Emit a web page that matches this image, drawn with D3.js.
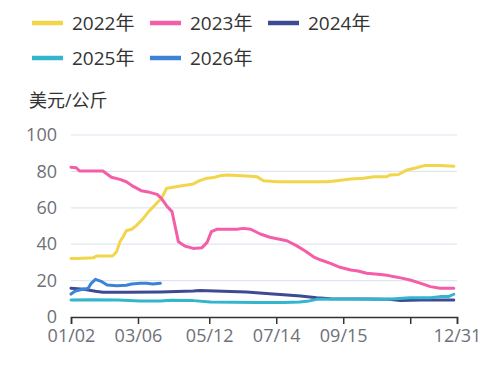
<!DOCTYPE html>
<html>
<head>
<meta charset="utf-8">
<script src="https://cdn.jsdelivr.net/npm/d3@7"></script>
<style>
	body { margin: 0; background: #fff; }
	svg { display: block; font-family: "Open Sans", "Noto Sans CJK SC", sans-serif; }
</style>
</head>
<body>
<svg id="chart" width="491" height="375"></svg>
<script>
// Data, dates are MM/DD
var seriesNames = ["2022年", "2023年", "2024年", "2025年", "2026年"];
var seriesColors = ["#f3d54b", "#f45ea8", "#3e4b93", "#33b6cd", "#3c83d5"];

var dates2022 = ["01/02","01/08","01/23","01/26","02/10","02/12","02/14","02/17","02/20","02/23","02/28","03/05","03/11","03/16","03/22","03/28","04/02","04/08","04/15","04/21","04/27","05/03","05/10","05/16","05/22","05/29","06/16","06/26","07/02","07/15","08/31","09/09","09/22","10/04","10/14","10/26","10/29","11/06","11/14","11/23","12/01","12/15","12/28"];
var values2022 = [32.2,32.2,32.5,33.5,33.5,34.6,36,41.4,44.1,47.4,48.2,50.5,54.2,57.9,61.5,65.2,70.7,71.3,72,72.5,73.1,74.9,76.3,76.6,77.6,78,77.5,77,74.9,74.3,74.3,74.9,75.8,76.2,77.1,77.1,78,78.3,80.8,82,83.3,83.3,82.8];

var dates2023 = ["01/02","01/07","01/10","02/01","02/09","02/17","02/23","03/02","03/09","03/17","03/24","03/28","04/02","04/07","04/10","04/13","04/19","04/27","05/05","05/10","05/14","05/19","06/07","06/13","06/20","06/29","07/08","07/24","08/02","08/11","08/18","08/25","09/03","09/12","09/22","09/29","10/07","10/20","10/26","11/01","11/08","11/17","11/27","12/06","12/15","12/28"];
var values2023 = [82.3,82,80.2,80.2,76.8,75.6,74.3,71.6,69.4,68.5,67.4,65.2,61,57.9,49.6,41.4,39,37.7,38,41,46.9,48.2,48.2,48.7,48.2,45.6,43.8,41.9,39.2,36,33.1,31.3,29.5,27.3,25.8,25.3,24,23.4,23,22.2,21.5,20.3,18.5,16.7,15.8,15.8];

var dates2024 = ["01/02","01/14","01/25","02/01","02/23","03/27","04/27","05/03","05/25","06/16","07/11","07/21","08/06","08/21","09/03","10/08","10/28","11/08","11/27","12/28"];
var values2024 = [15.8,15.2,14.1,13.6,13.6,13.8,14.3,14.5,14.2,13.7,12.6,12.2,11.6,10.6,10,9.9,9.8,9.0,9.3,9.3];

var dates2025 = ["01/02","01/21","02/15","03/08","03/27","04/06","04/27","05/13","06/25","07/21","08/05","08/12","08/21","09/22","10/26","11/17","12/06","12/15","12/23","12/28"];
var values2025 = [9.4,9.5,9.3,8.8,8.8,9.2,9.0,8.2,8.0,7.9,8.3,8.6,9.7,9.9,9.7,10.6,10.6,11.2,11.2,12.5];

var dates2026 = ["01/02","01/06","01/14","01/18","01/21","01/25","01/31","02/05","02/14","02/23","02/28","03/08","03/14","03/20","03/27"];
var values2026 = [12.6,14.3,15.4,15.6,18.5,20.7,19.4,17.6,17.2,17.4,18.1,18.5,18.5,18.1,18.5];

var xTickDates = ["01/02","03/06","05/12","07/14","09/15","11/17","12/31"];
var xTickLabels = ["01/02","03/06","05/12","07/14","09/15","","12/31"];
var yTicks = [0, 20, 40, 60, 80, 100];

var parseDate = d3.timeParse("%m/%d");

var allDates = [dates2022, dates2023, dates2024, dates2025, dates2026];
var allValues = [values2022, values2023, values2024, values2025, values2026];

var series = seriesNames.map(function(name, i) {
	return {
		name: name,
		color: seriesColors[i],
		points: allDates[i].map(function(d, j) {
			return { date: parseDate(d), value: allValues[i][j] };
		})
	};
});

var margin = {top: 135, right: 34, bottom: 58, left: 71},
	width = 491 - margin.left - margin.right,
	height = 375 - margin.top - margin.bottom;

var x = d3.scaleTime()
	.domain([parseDate("01/02"), parseDate("12/31")])
	.range([0, width]);

var y = d3.scaleLinear()
	.domain([0, 100])
	.range([height, 0]);

var svg = d3.select("svg#chart");

// legend
var legend = svg.append("g").attr("class", "legend");
var legendItem = legend.selectAll("g")
	.data(series)
	.enter().append("g")
	.attr("transform", function(d, i) {
		return "translate(" + (32 + (i % 3) * 118) + "," + (23 + Math.floor(i / 3) * 35) + ")";
	});
legendItem.append("line")
	.attr("x1", 0)
	.attr("x2", 31)
	.attr("stroke", function(d) { return d.color; })
	.attr("stroke-width", 4.5);
legendItem.append("text")
	.attr("x", 40)
	.attr("y", 7)
	.attr("fill", "#333")
	.style("font-size", "19px")
	.text(function(d) { return d.name; });

// y axis name
svg.append("text")
	.attr("x", 29)
	.attr("y", 107)
	.attr("fill", "#333")
	.style("font-size", "18px")
	.text("美元/公斤");

var g = svg.append("g")
	.attr("transform", "translate(" + margin.left + "," + margin.top + ")");

// grid lines
g.append("g")
	.attr("class", "grid")
	.selectAll("line")
	.data(yTicks.filter(function(t) { return t > 0; }))
	.enter().append("line")
	.attr("x1", 0)
	.attr("x2", width)
	.attr("y1", function(d) { return y(d); })
	.attr("y2", function(d) { return y(d); })
	.attr("stroke", "#e0e6f1")
	.attr("stroke-width", 1.2);

var yAxis = d3.axisLeft(y)
	.tickValues(yTicks)
	.tickSize(0)
	.tickPadding(14);

g.append("g")
	.attr("class", "y axis")
	.call(yAxis)
	.call(function(s) {
		s.select(".domain").remove();
		s.selectAll("text")
			.attr("fill", "#6e7079")
			.style("font-size", "18px")
			.style("font-family", "\"Open Sans\", sans-serif");
	});

var xAxis = d3.axisBottom(x)
	.tickValues(xTickDates.map(parseDate))
	.tickSize(7)
	.tickPadding(5)
	.tickFormat(function(d, i) { return xTickLabels[i]; });

g.append("g")
	.attr("class", "x axis")
	.attr("transform", "translate(0," + height + ")")
	.call(xAxis)
	.call(function(s) {
		s.select(".domain").attr("stroke", "#333").attr("stroke-width", 1.5);
		s.selectAll(".tick line").attr("stroke", "#333").attr("stroke-width", 1.5);
		s.selectAll("text")
			.attr("fill", "#6e7079")
			.style("font-size", "18px")
			.style("font-family", "\"Open Sans\", sans-serif");
	});

var line = d3.line()
	.x(function(d) { return x(d.date); })
	.y(function(d) { return y(d.value); });

g.append("g")
	.attr("class", "lines")
	.selectAll("path")
	.data(series)
	.enter().append("path")
	.attr("fill", "none")
	.attr("stroke", function(d) { return d.color; })
	.attr("stroke-width", 3)
	.attr("stroke-linejoin", "round")
	.attr("stroke-linecap", "round")
	.attr("d", function(d) { return line(d.points); });
</script>
</body>
</html>
